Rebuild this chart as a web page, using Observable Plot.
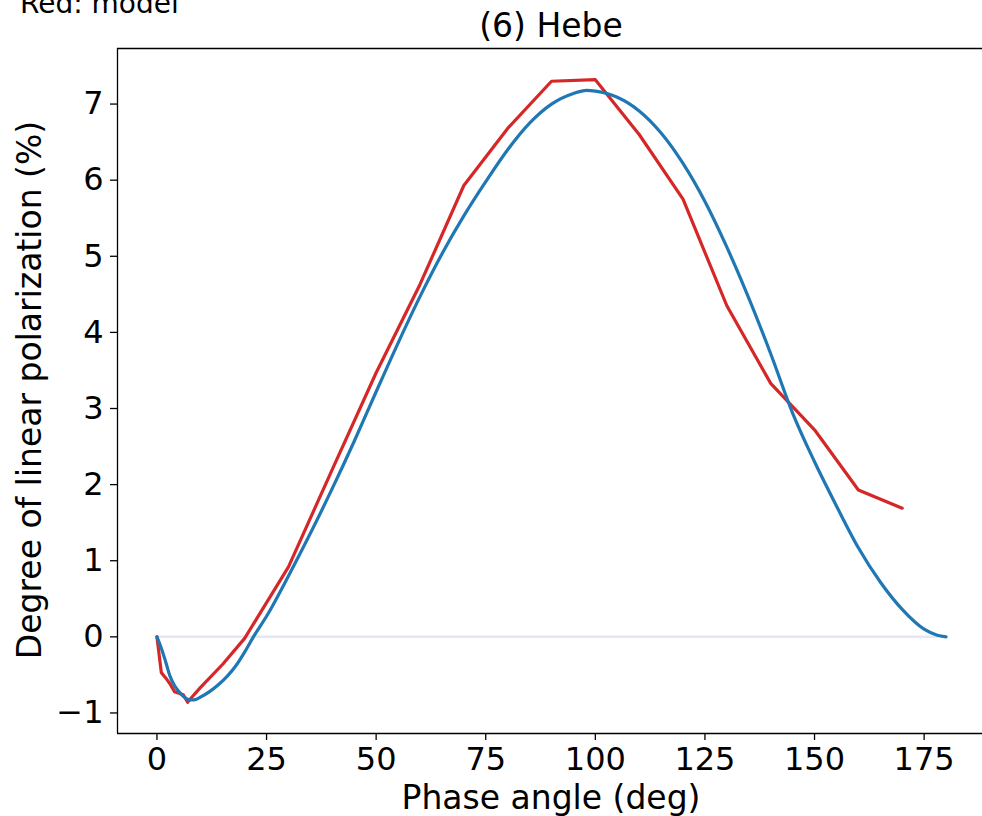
<!DOCTYPE html>
<html><head><meta charset="utf-8">
<script src="https://cdn.jsdelivr.net/npm/d3@7"></script>
<script src="https://cdn.jsdelivr.net/npm/@observablehq/plot@0.6"></script>
<style>html,body{margin:0;padding:0;background:#fff;overflow:hidden}</style>
</head><body><div id="chart"></div>
<script>
// Red: model
const redPhase = [0,1,2,3,4,5,6,7,8,10,15,20,25,30,40,50,60,70,80,90,100,110,120,130,140,150,160,170];
const redPol   = [0,-0.47,-0.54,-0.62,-0.72,-0.74,-0.76,-0.86,-0.79,-0.66,-0.36,-0.02,0.45,0.92,2.20,3.47,4.63,5.93,6.68,7.30,7.32,6.60,5.75,4.35,3.33,2.72,1.93,1.69];
// Blue: fit
const bluePhase = [0,1,2,3,4,5,6,7,8,9,10,12,14,16,18,20,22,25,30,35,40,45,50,55,60,65,70,75,80,85,90,95,98,100,105,110,115,120,125,130,135,140,145,150,155,160,165,170,175,178,180];
const bluePol   = [0,-0.15,-0.33,-0.52,-0.64,-0.72,-0.78,-0.82,-0.83,-0.82,-0.79,-0.72,-0.63,-0.52,-0.38,-0.20,0.0,0.27,0.80,1.36,1.95,2.57,3.22,3.86,4.47,5.03,5.53,5.98,6.40,6.75,7.00,7.14,7.18,7.17,7.09,6.91,6.62,6.22,5.72,5.12,4.45,3.72,2.94,2.30,1.72,1.17,0.72,0.36,0.10,0.02,0];
const zeroSpan = [0,180];
const xTicks = [0,25,50,75,100,125,150,175];
const yTicks = [-1,0,1,2,3,4,5,6,7];
const xDomain = [-9,189];
const yDomain = [-1.27,7.73];
const titleText = "(6) Hebe";
const noteText = "Red: model";
const xLabel = "Phase angle (deg)";
const yLabel = "Degree of linear polarization (%)";

const red = redPhase.map((a,i)=>({a, p: redPol[i]}));
const blue = bluePhase.map((a,i)=>({a, p: bluePol[i]}));
const fmt = d => d < 0 ? "\u2212" + Math.abs(d) : String(d);

const plot = Plot.plot({
  width: 982, height: 816,
  marginLeft: 117, marginTop: 48, marginBottom: 83, marginRight: 0,
  style: {fontFamily: "DejaVu Sans", fontSize: "32px", color: "black", background: "white"},
  x: {domain: xDomain, range: [117, 985]},
  y: {domain: yDomain},
  marks: [
    Plot.ruleY([0], {x1: zeroSpan[0], x2: zeroSpan[1], stroke: "#e6e6fa", strokeWidth: 2.5}),
    Plot.line(red, {x: "a", y: "p", stroke: "#d62728", strokeWidth: 3.2}),
    Plot.line(blue, {x: "a", y: "p", stroke: "#1f77b4", strokeWidth: 3.2, curve: "monotone-x"}),
    Plot.ruleX([xDomain[0]], {stroke: "black", strokeWidth: 1.3}),
    Plot.ruleY(yDomain, {stroke: "black", strokeWidth: 1.3}),
    Plot.axisX(xTicks, {tickSize: 7, tickPadding: 7, label: null, strokeWidth: 1.3, tickFormat: fmt}),
    Plot.axisY(yTicks, {tickSize: 7, tickPadding: 7, label: null, strokeWidth: 1.3, tickFormat: fmt})
  ]
});
document.getElementById("chart").appendChild(plot);
const svg = d3.select(plot);
svg.append("text").attr("x", 20).attr("y", 13).attr("text-anchor", "start").attr("font-size", 28).attr("fill", "black").text(noteText);
svg.append("text").attr("x", 551).attr("y", 37).attr("text-anchor", "middle").attr("font-size", 33).attr("fill", "black").text(titleText);
svg.append("text").attr("transform", "translate(41,390) rotate(-90)").attr("text-anchor", "middle").attr("font-size", 33).attr("fill", "black").text(yLabel);
svg.append("text").attr("x", 551).attr("y", 809).attr("text-anchor", "middle").attr("font-size", 33).attr("fill", "black").text(xLabel);
</script>
</body></html>
